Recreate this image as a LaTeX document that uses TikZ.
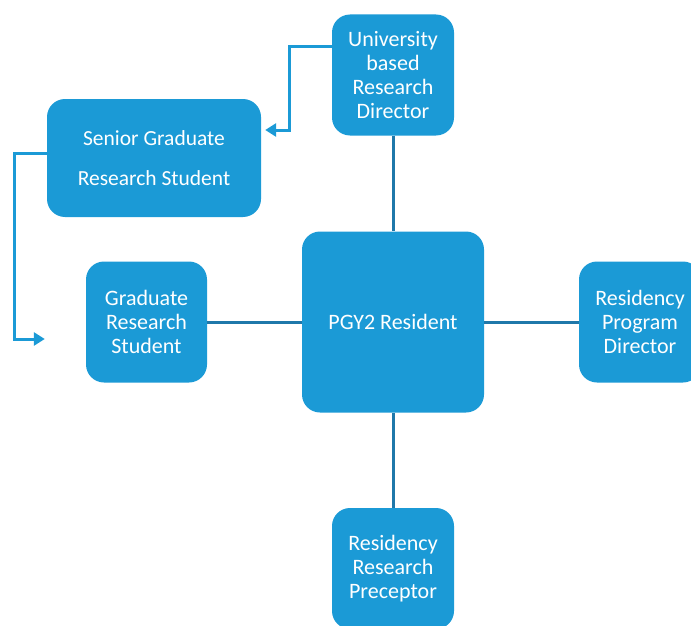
\documentclass[tikz,border=0pt]{standalone}
\usepackage{fontspec}
\setmainfont{Carlito}
\usetikzlibrary{arrows.meta}
\definecolor{boxblue}{HTML}{1B9AD6}
\definecolor{linkblue}{HTML}{1F78AA}
\tikzset{
  role/.style={fill=boxblue, rounded corners=18pt, text=white, align=center,
    font=\fontsize{22}{24}\selectfont, inner sep=0pt},
  link/.style={draw=linkblue, line width=3pt},
  report/.style={draw=boxblue, line width=3pt,
    -{Triangle[length=11pt,width=13pt]}}
}
\begin{document}
\begin{tikzpicture}[x=1pt,y=-1pt]
\useasboundingbox (0,0) rectangle (691,626);
% the roles
\node[role, minimum width=182pt, minimum height=181pt] (pgy) at (393,322) {PGY2 Resident};
\node[role, minimum width=122pt, minimum height=121pt] (univ) at (393,75) {University\\based\\Research\\Director};
\node[role, minimum width=214pt, minimum height=118pt, font=\fontsize{21.5}{40}\selectfont] (senior) at (154,158) {Senior Graduate\\Research Student};
\node[role, minimum width=121pt, minimum height=121pt] (grad) at (146.5,322) {Graduate\\Research\\Student};
\node[role, minimum width=122pt, minimum height=121pt] (prog) at (640,322) {Residency\\Program\\Director};
\node[role, minimum width=122pt, minimum height=121pt] (prec) at (393,568.5) {Residency\\Research\\Preceptor};
% links to the resident
\draw[link] (univ) -- (pgy);
\draw[link] (prec) -- (pgy);
\draw[link] (grad) -- (pgy);
\draw[link] (prog) -- (pgy);
% reporting arrows
\draw[report] ([yshift=28pt]univ.west) -- ++(-42,0) |- ([xshift=4pt,yshift=28pt]senior.east);
\draw[report] ([yshift=5pt]senior.west) -- ++(-32,0) |- ([xshift=-41pt,yshift=-17pt]grad.west);
\end{tikzpicture}
\end{document}
